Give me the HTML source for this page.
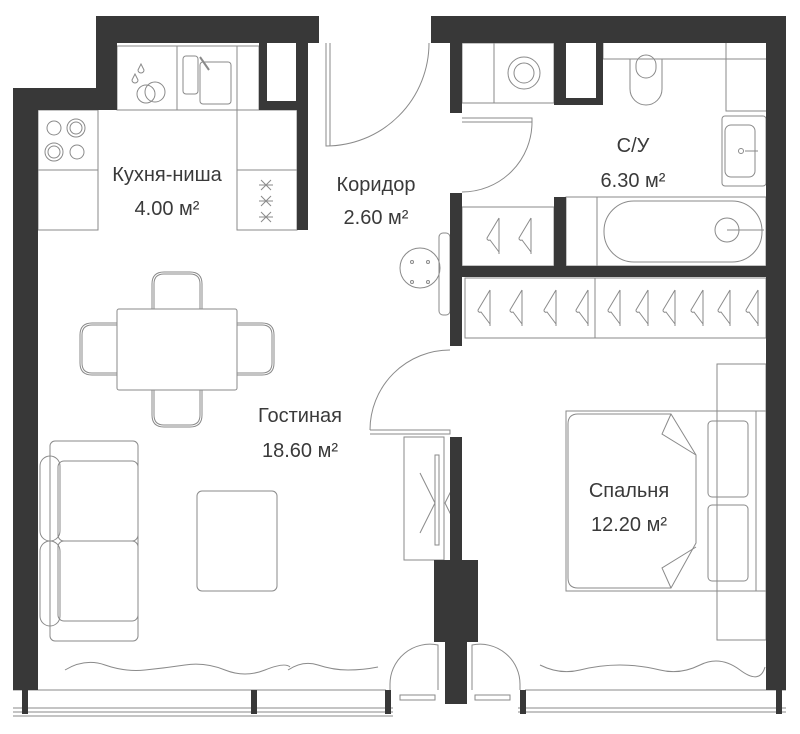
<!DOCTYPE html>
<html><head><meta charset="utf-8"><style>
html,body{margin:0;padding:0;background:#fff;}
svg{display:block;}
text{font-family:"Liberation Sans",sans-serif;fill:#3a3a3a;font-size:20px;text-anchor:middle;}
</style></head><body>
<svg width="800" height="734" viewBox="0 0 800 734" xmlns="http://www.w3.org/2000/svg">
<defs>
<path id="hg" d="M0 0 v36 M0 0 l-12 20 a2 2 0 0 0 3 2 l9 12" fill="none" stroke="#8a8a8a"/>
</defs>
<g fill="none" stroke="#8a8a8a" stroke-width="1">
<rect x="117" y="46" width="142" height="64"/>
<line x1="177" y1="46" x2="177" y2="110"/><line x1="237" y1="46" x2="237" y2="110"/>
<path d="M141 64 l-3 6 a3 3 0 1 0 6 0z M135 74 l-3 6 a3 3 0 1 0 6 0z"/>
<circle cx="155" cy="92" r="10"/><circle cx="146" cy="94" r="9"/>
<rect x="183" y="56" width="15" height="38" rx="3"/><rect x="200" y="62" width="31" height="42" rx="3"/>
<line x1="200" y1="57" x2="209" y2="70" stroke-width="2"/>
<rect x="38" y="110" width="60" height="120"/><line x1="38" y1="170" x2="98" y2="170"/>
<circle cx="54" cy="128" r="7"/><circle cx="76" cy="128" r="9"/><circle cx="76" cy="128" r="6"/>
<circle cx="54" cy="152" r="9"/><circle cx="54" cy="152" r="6"/><circle cx="77" cy="152" r="7"/>
<rect x="237" y="110" width="60" height="120"/><line x1="237" y1="170" x2="297" y2="170"/>
<path d="M261 180 l10 10 M271 180 l-10 10 M259 185 h14 M261 196 l10 10 M271 196 l-10 10 M259 201 h14 M261 212 l10 10 M271 212 l-10 10 M259 217 h14"/>
<rect x="117" y="309" width="120" height="81" rx="2"/>
<path d="M154 309 v-25 q0-10 10-10 h26 q10 0 10 10 v25"/>
<path d="M152 309 v-25 q0-12 12-12 h26 q12 0 12 12 v25"/>
<path d="M154 390 v25 q0 10 10 10 h26 q10 0 10-10 v-25"/>
<path d="M152 390 v25 q0 12 12 12 h26 q12 0 12-12 v-25"/>
<path d="M117 325 h-25 q-10 0-10 10 v28 q0 10 10 10 h25"/>
<path d="M117 323 h-25 q-12 0-12 12 v28 q0 12 12 12 h25"/>
<path d="M237 325 h25 q10 0 10 10 v28 q0 10-10 10 h-25"/>
<path d="M237 323 h25 q12 0 12 12 v28 q0 12-12 12 h-25"/>
<rect x="50" y="441" width="88" height="200" rx="5"/>
<rect x="58" y="461" width="80" height="80" rx="6"/><rect x="58" y="541" width="80" height="80" rx="6"/>
<rect x="40" y="456" width="20" height="85" rx="10"/><rect x="40" y="541" width="20" height="85" rx="10"/>
<rect x="197" y="491" width="80" height="100" rx="5"/>
<path d="M65 670 q20-12 40-5 t40 5 t40-5 t40 5 t40 0 t25-3"/>
<path d="M288 670 q15-10 30-5 t30 5 t30-3"/>
<path d="M540 665 q20 10 40 5 t40-5 t40 5 t40-5 t40 5 t25-3"/>
<path d="M326 43 v103 h4 v-103 M326 146 A103 103 0 0 0 429 43"/>
<path d="M462 118 h70 v4 h-70 M532 122 A70 70 0 0 1 462 192"/>
<path d="M370 430 h80 v4 h-80 M370 430 A80 80 0 0 1 450 350"/>
<path d="M390 690 v-5 a40 40 0 0 1 48 -40 v45 M520 690 v-5 a40 40 0 0 0 -48 -40 v45"/>
<rect x="400" y="695" width="35" height="5"/><rect x="475" y="695" width="35" height="5"/>
<rect x="439" y="233" width="11" height="82" rx="4"/>
<circle cx="420" cy="268" r="20"/>
<circle cx="412" cy="262" r="1.5"/><circle cx="428" cy="262" r="1.5"/><circle cx="412" cy="282" r="1.5"/><circle cx="428" cy="282" r="1.5"/>
<rect x="462" y="43" width="92" height="60"/><line x1="494" y1="43" x2="494" y2="103"/>
<circle cx="524" cy="73" r="16"/><circle cx="524" cy="73" r="10"/>
<path d="M603 43 v16 h163 M726 43 v68 h40"/>
<path d="M630 59 v30 a16 16 0 0 0 32 0 v-30z"/><path d="M636 68 a10 10 0 0 0 20 0 v-3 a10 10 0 0 0 -20 0z"/>
<rect x="722" y="116" width="44" height="70" rx="3"/><rect x="725" y="125" width="30" height="52" rx="6"/>
<circle cx="741" cy="151" r="2.5"/><line x1="745" y1="151" x2="758" y2="151"/>
<rect x="566" y="197" width="200" height="69"/><line x1="597" y1="197" x2="597" y2="266"/>
<rect x="604" y="201" width="158" height="61" rx="30"/><circle cx="727" cy="230" r="12"/>
<line x1="727" y1="230" x2="764" y2="230"/>
<rect x="462" y="207" width="92" height="59"/>
<rect x="465" y="278" width="301" height="60"/>
<line x1="595" y1="278" x2="595" y2="338"/>
<rect x="717" y="364" width="49" height="276"/>
<rect x="566" y="411" width="200" height="180"/>
<line x1="756" y1="411" x2="756" y2="591"/>
<path d="M578 414 h93 l25 41 v88 l-25 45 h-93 q-10 0-10-10 v-154 q0-10 10-10z"/>
<path d="M671 414 l-9 20 l34 21 M671 588 l-9-20 l34-21"/>
<rect x="708" y="421" width="40" height="76" rx="4"/><rect x="708" y="505" width="40" height="76" rx="4"/>
<rect x="404" y="437" width="40" height="123"/><rect x="435" y="455" width="4" height="90"/>
<path d="M420 473 l15 30 l-15 30 M460 473 l-15 30 l15 30"/>
<path d="M13 690 h373 M525 690 h261"/>
<path d="M13 708 h380 M13 712 h380 M13 716 h380 M518 708 h268 M518 712 h268"/>
</g>
<use href="#hg" x="499" y="218"/><use href="#hg" x="531" y="218"/>
<use href="#hg" x="490" y="290"/><use href="#hg" x="522" y="290"/><use href="#hg" x="556" y="290"/><use href="#hg" x="588" y="290"/><use href="#hg" x="620" y="290"/><use href="#hg" x="648" y="290"/><use href="#hg" x="675" y="290"/><use href="#hg" x="703" y="290"/><use href="#hg" x="730" y="290"/><use href="#hg" x="758" y="290"/>
<g fill="#383838">
<path d="M96 16 H319 V43 H308 V230 H297 V110 H259 V43 H117 V110 H38 V690 H13 V88 H96Z"/>
<rect x="267" y="43" width="29" height="58" fill="#fff"/>
<path d="M431 16 H786 V690 H766 V43 H603 V105 H554 V43 H462 V113 H450 V43 H431Z"/>
<rect x="566" y="43" width="30" height="55" fill="#fff"/>
<rect x="450" y="193" width="12" height="153"/>
<rect x="554" y="197" width="12" height="70"/>
<rect x="462" y="266" width="304" height="11"/>
<rect x="450" y="437" width="12" height="123"/>
<rect x="434" y="560" width="44" height="82"/>
<rect x="445" y="642" width="22" height="62"/>
<rect x="22" y="690" width="6" height="24"/><rect x="251" y="690" width="6" height="24"/>
<rect x="385" y="690" width="6" height="24"/><rect x="520" y="690" width="6" height="24"/>
<rect x="776" y="690" width="6" height="24"/>
</g>
<text x="167" y="181">Кухня-ниша</text><text x="167" y="215">4.00 м²</text>
<text x="376" y="191">Коридор</text><text x="376" y="224">2.60 м²</text>
<text x="633" y="152">С/У</text><text x="633" y="187">6.30 м²</text>
<text x="300" y="422">Гостиная</text><text x="300" y="457">18.60 м²</text>
<text x="629" y="497">Спальня</text><text x="629" y="531">12.20 м²</text>
</svg>
</body></html>
